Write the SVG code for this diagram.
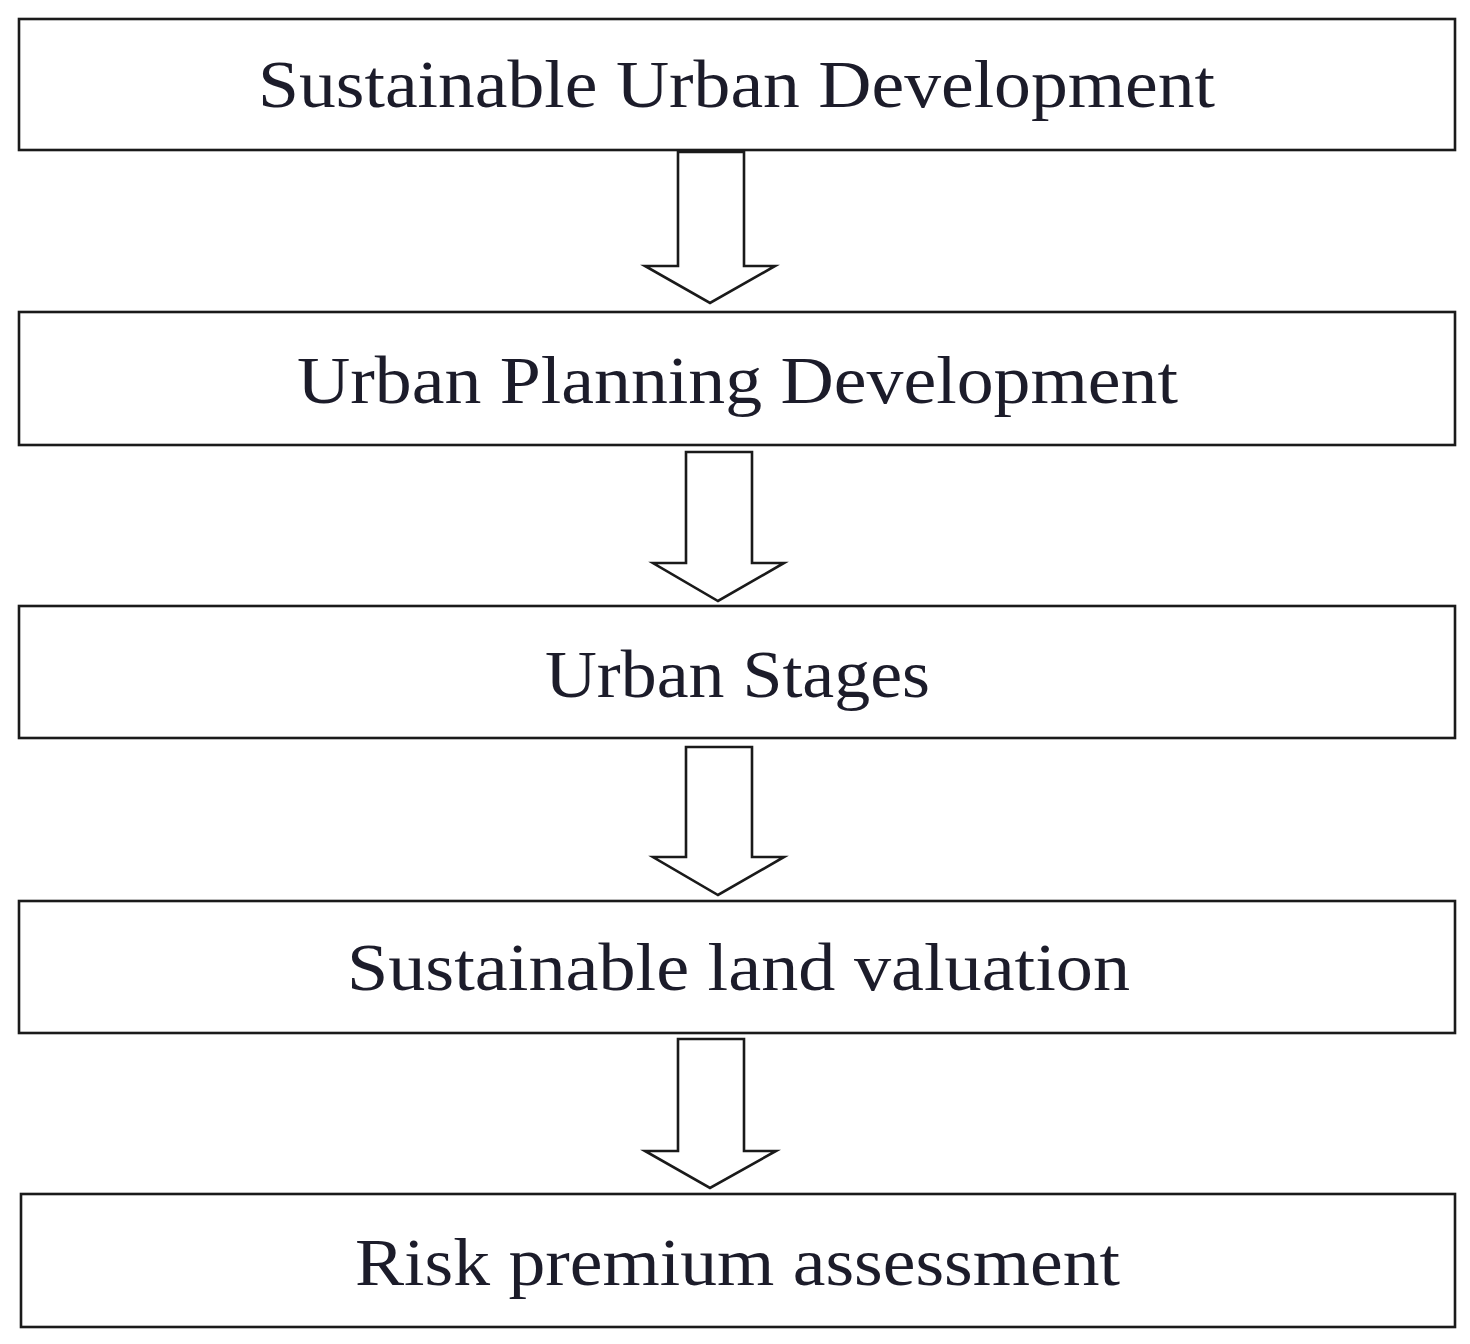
<svg xmlns="http://www.w3.org/2000/svg" width="1470" height="1344" viewBox="0 0 1470 1344">
<style>
.box{fill:#fff;stroke:#1a1a1a;stroke-width:2.6}
.arr{fill:#fff;stroke:#1a1a1a;stroke-width:2.6;stroke-linejoin:miter}
.lbl{font-family:"Liberation Serif","Times New Roman",serif;font-size:68px;fill:#1c1c2a}
</style>
<rect width="1470" height="1344" fill="#fff"/>
<g id="connectors">
<polygon class="arr" points="678,152 744,152 744,266 775,266 710,303 645,266 678,266"/>
<polygon class="arr" points="686,452 752,452 752,563 784,563 718,601 653,563 686,563"/>
<polygon class="arr" points="686,747 752,747 752,857 784,857 718,895 653,857 686,857"/>
<polygon class="arr" points="678,1039 744,1039 744,1151 776,1151 710,1188 645,1151 678,1151"/>
</g>
<g id="n1">
<rect class="box" x="19" y="19" width="1436" height="131"/>
<text class="lbl" x="258" y="107" textLength="957" lengthAdjust="spacingAndGlyphs">Sustainable Urban Development</text>
</g>
<g id="n2">
<rect class="box" x="19" y="312" width="1436" height="133"/>
<text class="lbl" x="297" y="403" textLength="881" lengthAdjust="spacingAndGlyphs">Urban Planning Development</text>
</g>
<g id="n3">
<rect class="box" x="19" y="606" width="1436" height="132"/>
<text class="lbl" x="545" y="697" textLength="385" lengthAdjust="spacingAndGlyphs">Urban Stages</text>
</g>
<g id="n4">
<rect class="box" x="19" y="901" width="1436" height="132"/>
<text class="lbl" x="347" y="990" textLength="783" lengthAdjust="spacingAndGlyphs">Sustainable land valuation</text>
</g>
<g id="n5">
<rect class="box" x="21" y="1194" width="1434" height="133"/>
<text class="lbl" x="355" y="1285" textLength="765" lengthAdjust="spacingAndGlyphs">Risk premium assessment</text>
</g>
</svg>
